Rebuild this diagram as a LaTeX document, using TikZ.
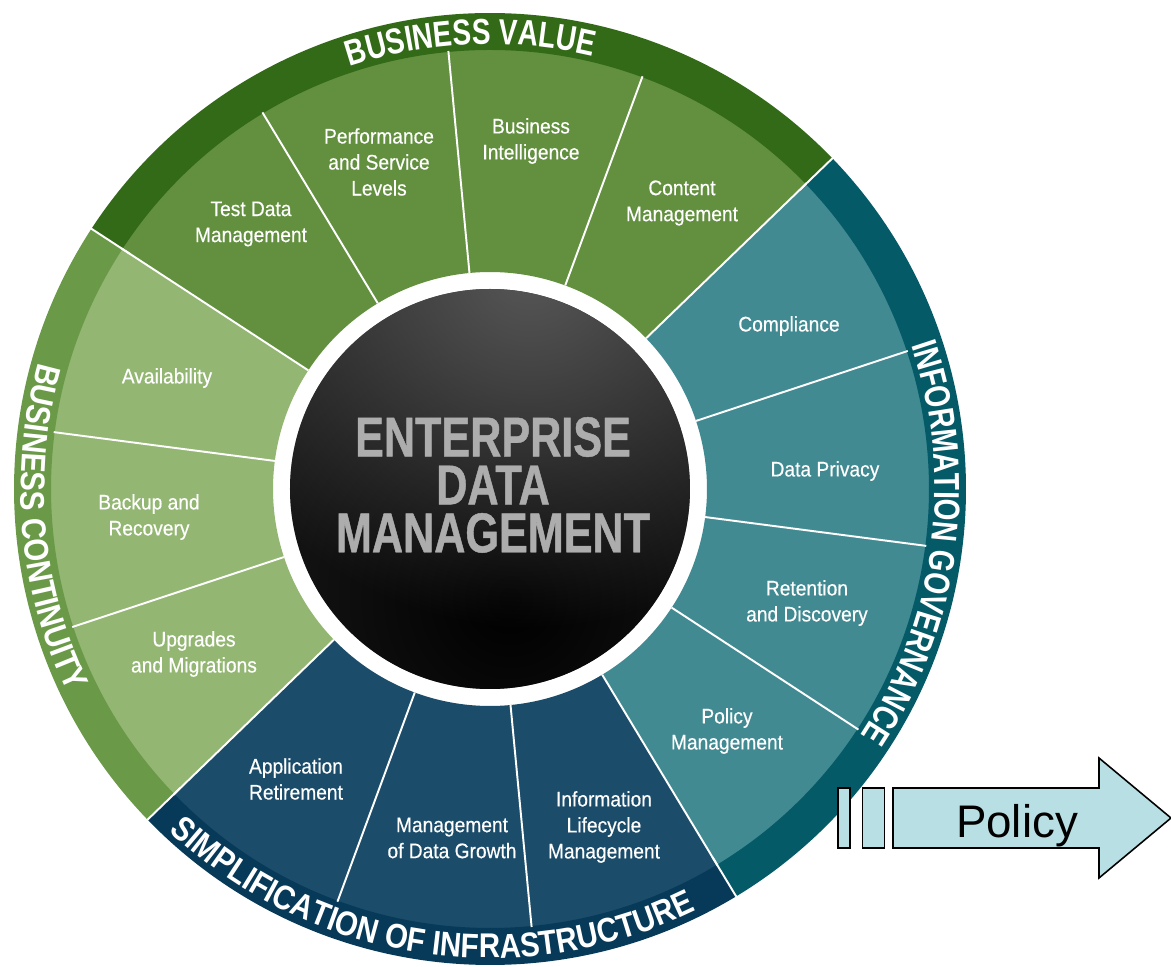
\documentclass[tikz,border=0pt]{standalone}
\usepackage{fontspec}
\setmainfont{Liberation Sans}
\newfontfamily\secfamily[FakeStretch=0.91,FakeBold=0.4]{Liberation Sans}
\newfontfamily\hubfamily[FakeStretch=0.77,FakeBold=0.8]{Liberation Sans}
\newfontfamily\ringfamily[FakeStretch=0.78]{Liberation Sans}
\newfontfamily\ringinfamily[FakeStretch=0.86]{Liberation Sans}
\usepackage{tikz}
\usetikzlibrary{decorations.text,positioning,fadings}

\definecolor{bvring}{HTML}{336A18}
\definecolor{bvsec}{HTML}{62903E}
\definecolor{bcring}{HTML}{6A9A48}
\definecolor{bcsec}{HTML}{93B672}
\definecolor{igring}{HTML}{045A66}
\definecolor{igsec}{HTML}{418A92}
\definecolor{siring}{HTML}{073A58}
\definecolor{sisec}{HTML}{1B4D6B}
\definecolor{hubgray}{HTML}{ADADAD}
\definecolor{spherebase}{HTML}{1C1C1C}
\definecolor{policyfill}{HTML}{B8E0E4}

\tikzfading[name=softglow, inner color=transparent!0, outer color=transparent!100]

\newcommand{\ringfont}{\ringfamily\bfseries\fontsize{20.5}{24}\selectfont\color{white}}
\newcommand{\ringinfont}{\ringinfamily\bfseries\fontsize{19.5}{24}\selectfont\color{white}}

\begin{document}
\begin{tikzpicture}[
    x=0.02cm, y=0.02cm,
    seclabel/.style={
		text=white,
		align=center,
		inner sep=0pt,
		font=\secfamily\fontsize{12}{14.8}\selectfont
	},
    hub/.style={
		text=hubgray,
		align=center,
		inner sep=0pt,
		font=\hubfamily\bfseries\fontsize{31.9}{27.3}\selectfont
	},
    divider/.style={
		draw=white,
		line width=1.1pt
	},
    policybar/.style={
		rectangle,
		draw=black,
		fill=policyfill,
		line width=0.9pt,
		minimum height=1.2cm,
		inner sep=0pt
	},
    policyshape/.style={
		draw=black,
		fill=policyfill,
		line width=0.9pt
	},
    ringtext/.style={
		decorate,
		decoration={text along path, text align=center, text={#1}}
	}
  ]
  \fill[white, use as bounding box] (-490,-478) rectangle (681,489);

  % We start by filling the sectors
  \foreach \k/\col in {0/bvsec,1/bvsec,2/bvsec,3/bvsec,4/bcsec,5/bcsec,6/bcsec,
                       7/sisec,8/sisec,9/sisec,10/igsec,11/igsec,12/igsec,13/igsec} {
    \pgfmathsetmacro\a{44+\k*360/14}
    \pgfmathsetmacro\b{\a+360/14}
    \fill[\col] (\a:217) -- (\a:440) arc[start angle=\a, end angle=\b, radius=440]
      -- (\b:217) arc[start angle=\b, end angle=\a, radius=217] -- cycle;
  }

  % then the outer bands
  \foreach \a/\b/\col in {44/146.857/bvring, 146.857/224/bcring,
                          224/301.143/siring, 301.143/404/igring}
    \fill[\col] (\a:439) arc[start angle=\a, end angle=\b, radius=439]
      -- (\b:476) arc[start angle=\b, end angle=\a, radius=476] -- cycle;

  % white dividers
  \foreach \k in {0,...,13} {
    \pgfmathsetmacro\a{44+\k*360/14}
    \draw[divider] (\a:217) -- (\a:440);
  }
  \foreach \a in {44,146.857,224,301.143}
    \draw[divider] (\a:430) -- (\a:478);

  % band titles
  \path[ringtext={|\ringfont|BUSINESS VALUE}]
    (132.5:445) arc[start angle=132.5, end angle=52.5, radius=445];
  \path[ringtext={|\ringfont|INFORMATION GOVERNANCE}]
    (42.6:445) arc[start angle=42.6, end angle=-57.4, radius=445];
  \path[ringtext={|\ringinfont|SIMPLIFICATION OF INFRASTRUCTURE}]
    (216.4:469) arc[start angle=216.4, end angle=306.4, radius=469];
  \path[ringtext={|\ringinfont|BUSINESS CONTINUITY}]
    (150:469) arc[start angle=150, end angle=220, radius=469];

  % sector texts
  \foreach \px/\py/\txt [count=\i] in {
      192/286/{Content\\Management},
      41/348/{Business\\Intelligence},
      -111/327/{Performance\\and Service\\Levels},
      -239/265/{Test Data\\Management},
      -323/111/{Availability},
      -341/-28/{Backup and\\Recovery},
      -296/-165/{Upgrades\\and Migrations},
      -194/-290/{Application\\Retirement},
      -38/-349/{Management\\of Data Growth},
      114/-338/{Information\\Lifecycle\\Management},
      237/-242/{Policy\\Management},
      317/-114/{Retention\\and Discovery},
      335/18/{Data Privacy},
      299/163/{Compliance}}
    \node[seclabel] (item\i) at (\px,\py) {\txt};

  % the sphere in the middle
  \fill[spherebase] (0,0) circle[radius=200];
  \begin{scope}
    \clip (0,0) circle[radius=200];
    \fill[black, path fading=softglow] (20,-110) circle[radius=320];
    \fill[black!66, path fading=softglow] (40,220) circle[radius=360];
  \end{scope}
  \node[hub] (hub) at (3,4) {ENTERPRISE\\DATA\\MANAGEMENT};

  % policy arrow
  \node[policybar, minimum width=0.24cm] (bar1) at (354,-329) {};
  \node[policybar, minimum width=0.44cm, right=0.22cm of bar1] (bar2) {};
  \filldraw[policyshape] (403,-299) -- (609,-299) -- (609,-269) -- (681,-329)
    -- (609,-389) -- (609,-359) -- (403,-359) -- cycle;
  \node[font=\fontsize{26}{30}\selectfont, anchor=base] (policy) at (527,-348) {Policy};
\end{tikzpicture}
\end{document}
